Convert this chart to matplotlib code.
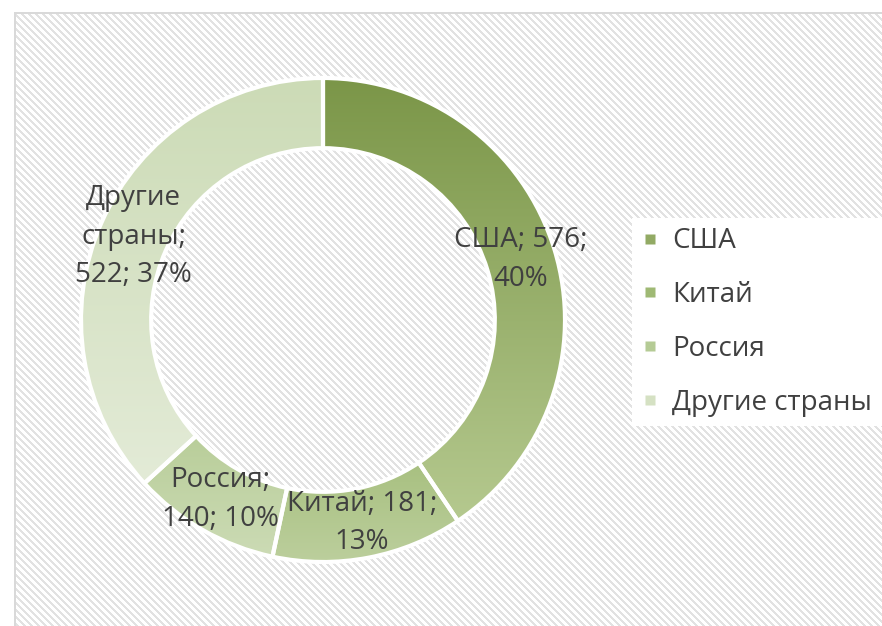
import numpy as np
import matplotlib
matplotlib.use("Agg")
import matplotlib.pyplot as plt
from matplotlib.colors import LinearSegmentedColormap, to_rgb
from matplotlib.lines import Line2D

categories = ["США", "Китай", "Россия", "Другие страны"]
values = [576, 181, 140, 522]
percent_labels = ["40%", "13%", "10%", "37%"]
label_texts = ["США; 576;\n40%", "Китай; 181;\n13%", "Россия;\n140; 10%", "Другие\nстраны;\n522; 37%"]
top_colors = ["#7B9648", "#8CAB58", "#A6C17F", "#CCDBB6"]
bottom_colors = ["#B5C98F", "#BCCF9D", "#CCDBB5", "#E3EBD7"]

plt.rcParams['font.family'] = ['Open Sans', 'DejaVu Sans']

W, H = 882, 626
fig = plt.figure(figsize=(W / 100, H / 100), dpi=100)

# striped background
bg = fig.add_axes([0, 0, 1, 1])
yy, xx = np.mgrid[0:H, 0:W]
stripes = ((xx - yy) % 7) < 3
img = np.ones((H, W, 3))
img[stripes] = np.array(to_rgb("#E2E2E2"))
img[:12, :, :] = 1.0
img[:, :14, :] = 1.0
img[12:14, 14:, :] = np.array(to_rgb("#D9D9D9"))
img[12:, 14:16, :] = np.array(to_rgb("#D9D9D9"))
bg.imshow(img, extent=(0, W, H, 0), interpolation="nearest", aspect="auto")
bg.set_xlim(0, W)
bg.set_ylim(H, 0)
bg.axis("off")

# donut
cx, cy, R = 323, 320, 242
ax = fig.add_axes([(cx - R) / W, (H - cy - R) / H, 2 * R / W, 2 * R / H])
ax.set_facecolor("none")
wedges, _ = ax.pie(values, startangle=90, counterclock=False, radius=1.0,
                   wedgeprops=dict(width=0.29, edgecolor="white", linewidth=3))
ax.set_aspect("equal")
ax.axis("off")

for w, tc, bc, txt in zip(wedges, top_colors, bottom_colors, label_texts):
    verts = w.get_path().vertices
    y0, y1 = verts[:, 1].min(), verts[:, 1].max()
    x0, x1 = verts[:, 0].min(), verts[:, 0].max()
    cmap = LinearSegmentedColormap.from_list("g", [bc, tc])
    grad = np.linspace(0, 1, 256).reshape(-1, 1)
    im = ax.imshow(grad, cmap=cmap, extent=(x0, x1, y0, y1), origin="lower",
                   aspect="auto", zorder=1, interpolation="bilinear")
    im.set_clip_path(w)
    w.set_facecolor("none")
    w.set_zorder(2)
    ang = np.deg2rad((w.theta1 + w.theta2) / 2)
    r = 1 - 0.29 / 2
    ax.text(r * np.cos(ang), r * np.sin(ang), txt, ha="center", va="center",
            fontsize=20, color="#404040", zorder=3, linespacing=1.5)
ax.set_xlim(-1.0, 1.0)
ax.set_ylim(-1.0, 1.0)

# legend
mid_colors = []
for tc, bc in zip(top_colors, bottom_colors):
    a, b = np.array(to_rgb(tc)), np.array(to_rgb(bc))
    mid_colors.append(tuple(0.6 * a + 0.4 * b))
handles = [Line2D([], [], marker="s", linestyle="none", markersize=7.5,
                  markerfacecolor=c, markeredgecolor="none") for c in mid_colors]
leg = fig.legend(handles, categories, loc="center left",
                 bbox_to_anchor=(632 / W, (H - 322) / H), frameon=True,
                 fontsize=20, labelcolor="#404040", handlelength=0.6,
                 handletextpad=0.5, labelspacing=0.93, borderpad=0.35,
                 facecolor="white", edgecolor="none", framealpha=1,
                 borderaxespad=0)
leg.get_frame().set_boxstyle("square", pad=0)

fig.savefig("out.png", dpi=100)
